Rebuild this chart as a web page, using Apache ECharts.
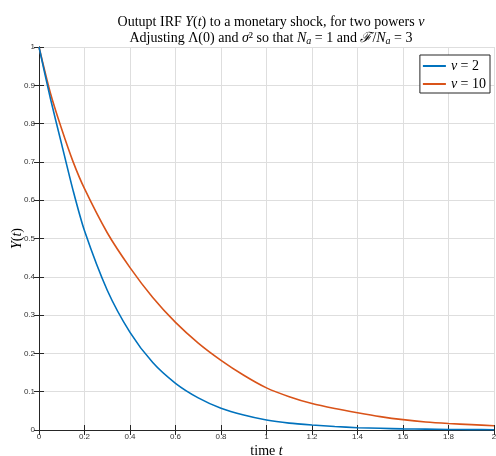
<!DOCTYPE html>
<html>
<head>
<meta charset="utf-8">
<script src="https://cdn.jsdelivr.net/npm/echarts@6/dist/echarts.min.js"></script>
<style>
  html, body { margin: 0; padding: 0; background: #fff; }
  #chart { width: 496px; height: 456px; }
</style>
</head>
<body>
<div id="chart"></div>
<script>
// values
const timeValues = [0, 0.05, 0.1, 0.15, 0.2, 0.3, 0.4, 0.5, 0.6, 0.7, 0.8, 0.9, 1.0, 1.1, 1.2, 1.3, 1.4, 1.5, 1.6, 1.7, 1.8, 1.9, 2.0];
const nu2Values = [1, 0.866, 0.745, 0.625, 0.52, 0.365, 0.255, 0.176, 0.122, 0.084, 0.057, 0.039, 0.026, 0.018, 0.013, 0.009, 0.006, 0.0045, 0.003, 0.0022, 0.0015, 0.001, 0.0008];
const nu10Values = [1, 0.88, 0.785, 0.70, 0.63, 0.515, 0.424, 0.346, 0.281, 0.227, 0.182, 0.143, 0.11, 0.087, 0.069, 0.056, 0.045, 0.035, 0.027, 0.021, 0.017, 0.014, 0.011];
const seriesNames = ['ν = 2', 'ν = 10'];
const seriesColors = ['#0072BD', '#D95319'];

const SERIF = '"Liberation Serif", "DejaVu Serif", serif';
const SANS = 'Helvetica, "Liberation Sans", Arial, sans-serif';
const AXIS_COLOR = '#262626';

const chart = echarts.init(document.getElementById('chart'), null, { renderer: 'canvas' });

const rich = {
  i: { fontFamily: SERIF, fontStyle: 'italic', fontSize: 14, color: '#000' },
  r: { fontFamily: SERIF, fontSize: 14, color: '#000' },
  s: { fontFamily: SERIF, fontStyle: 'italic', fontSize: 10, color: '#000', padding: [6, 0, 0, 0] },
};

const boxAxis = {
  axisLine: { show: true, lineStyle: { color: AXIS_COLOR, width: 1 } },
  axisTick: { show: true, inside: true, length: 5, lineStyle: { color: AXIS_COLOR } },
  axisLabel: { show: false },
  splitLine: { show: false },
};

chart.setOption({
  animation: false,
  backgroundColor: '#fff',
  title: {
    left: 266,
    top: 9,
    textAlign: 'center',
    text: '{r|Outupt IRF }{i|Y}{r|(}{i|t}{r|) to a monetary shock, for two powers }{i|ν}\n' +
          '{r|Adjusting Λ(0) and }{i|σ}{r|² so that }{i|N}{s|a}{r| = 1 and }{i|ℱ}{r|/}{i|N}{s|a}{r| = 3}',
    textStyle: { fontFamily: SERIF, fontSize: 14, fontWeight: 'normal', lineHeight: 16, rich: rich },
  },
  legend: {
    orient: 'vertical',
    right: 6,
    top: 55,
    itemGap: 4,
    padding: [4, 4, 2, 3],
    backgroundColor: '#fff',
    borderColor: AXIS_COLOR,
    borderWidth: 1,
    borderRadius: 0,
    icon: 'rect',
    itemWidth: 23,
    itemHeight: 2,
    data: seriesNames,
    formatter: function (name) {
      return '{i|ν}{r|' + name.slice(1) + '}';
    },
    textStyle: { fontFamily: SERIF, fontSize: 14, color: '#000', rich: rich },
  },
  grid: { left: 39, right: 2, top: 47, bottom: 26, outerBoundsMode: 'none', containLabel: false },
  xAxis: [
    {
      type: 'value',
      min: 0,
      max: 2,
      interval: 0.2,
      name: '{r|time }{i|t}',
      nameLocation: 'middle',
      nameGap: 14,
      nameMoveOverlap: false,
      nameTextStyle: { rich: rich },
      axisLine: { show: true, onZero: false, lineStyle: { color: AXIS_COLOR, width: 1 } },
      axisTick: { show: true, inside: true, length: 5, lineStyle: { color: AXIS_COLOR } },
      axisLabel: { color: '#333', fontFamily: SANS, fontSize: 8, margin: 3 },
      splitLine: { show: true, lineStyle: { color: '#dedede', width: 1 } },
    },
    Object.assign({ type: 'value', position: 'top', min: 0, max: 2, interval: 0.2 }, boxAxis),
  ],
  yAxis: [
    {
      type: 'value',
      min: 0,
      max: 1,
      interval: 0.1,
      name: '{i|Y}{r|(}{i|t}{r|)}',
      nameLocation: 'middle',
      nameGap: 15,
      nameMoveOverlap: false,
      nameTextStyle: { rich: rich },
      axisLine: { show: true, onZero: false, lineStyle: { color: AXIS_COLOR, width: 1 } },
      axisTick: { show: true, inside: true, length: 5, lineStyle: { color: AXIS_COLOR } },
      axisLabel: { color: '#333', fontFamily: SANS, fontSize: 8, margin: 4 },
      splitLine: { show: true, lineStyle: { color: '#dedede', width: 1 } },
    },
    Object.assign({ type: 'value', position: 'right', min: 0, max: 1, interval: 0.1 }, boxAxis),
  ],
  series: [
    {
      name: seriesNames[0],
      type: 'line',
      data: timeValues.map((t, k) => [t, nu2Values[k]]),
      smooth: 0.25,
      showSymbol: false,
      color: seriesColors[0],
      lineStyle: { width: 1.6 },
      z: 3,
    },
    {
      name: seriesNames[1],
      type: 'line',
      data: timeValues.map((t, k) => [t, nu10Values[k]]),
      smooth: 0.25,
      showSymbol: false,
      color: seriesColors[1],
      lineStyle: { width: 1.6 },
      z: 2,
    },
  ],
});
</script>
</body>
</html>
